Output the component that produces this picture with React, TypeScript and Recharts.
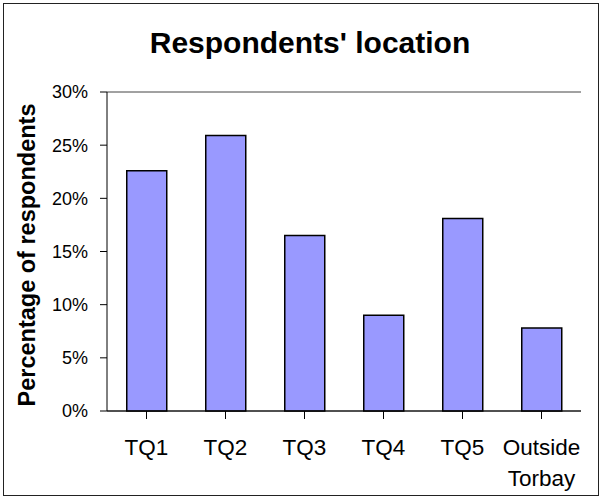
import { BarChart, Bar, XAxis, YAxis, CartesianGrid } from "recharts";

const categories = ["TQ1", "TQ2", "TQ3", "TQ4", "TQ5", "Outside Torbay"];
const shares = [22.6, 25.9, 16.5, 9.0, 18.1, 7.8];
const yTicks = [0, 5, 10, 15, 20, 25, 30];

const data = categories.map((name, i) => ({ name, value: shares[i] }));

const FONT = "'Liberation Sans', Arial, sans-serif";

function CategoryTick({ x, y, payload }: { x?: number; y?: number; payload?: { value: string } }) {
  const lines = String(payload?.value ?? "").split(" ");
  return (
    <g>
      {lines.map((line, i) => (
        <text
          key={i}
          x={x}
          y={(y ?? 0) + 34 + i * 31}
          textAnchor="middle"
          fontSize={22.5}
          fontFamily={FONT}
          fill="#000"
        >
          {line}
        </text>
      ))}
    </g>
  );
}

export default function App() {
  return (
    <div style={{ position: "absolute", left: 0, top: 0, width: 602, height: 499, background: "#fff" }}>
      <div
        style={{
          position: "absolute",
          left: 3,
          top: 3,
          width: 596,
          height: 493,
          border: "1px solid #222",
          boxSizing: "border-box",
        }}
      />
      <div
        style={{
          position: "absolute",
          left: 0,
          width: 620,
          top: 25,
          textAlign: "center",
          fontFamily: FONT,
          fontWeight: "bold",
          fontSize: 30,
          lineHeight: "36px",
          color: "#000",
        }}
      >
        Respondents' location
      </div>
      <div style={{ position: "absolute", left: 0, top: 0 }}>
        <BarChart width={602} height={499} data={data} margin={{ top: 92, right: 21, bottom: 0, left: 0 }} barCategoryGap="25%">
          <CartesianGrid horizontal vertical={false} stroke="#444" />
          <XAxis
            dataKey="name"
            height={88}
            interval={0}
            tickSize={8}
            tick={<CategoryTick />}
            axisLine={{ stroke: "#000" }}
            tickLine={{ stroke: "#000" }}
          />
          <YAxis
            yAxisId="left"
            width={107}
            domain={[0, 30]}
            ticks={yTicks}
            tickFormatter={(v: number) => `${v}%`}
            tickSize={7}
            tickMargin={12}
            tick={{ fontSize: 18, fontFamily: FONT, fill: "#000" }}
            axisLine={{ stroke: "#000" }}
            tickLine={{ stroke: "#000" }}
            label={{
              content: () => (
                <text
                  x={27}
                  y={255}
                  transform="rotate(-90 27 255)"
                  textAnchor="middle"
                  dominantBaseline="central"
                  fontSize={23.5}
                  fontWeight="bold"
                  fontFamily={FONT}
                  fill="#000"
                >
                  Percentage of respondents
                </text>
              ),
            }}
          />
          <YAxis
            yAxisId="right"
            orientation="right"
            width={0}
            domain={[0, 30]}
            tick={false}
            tickLine={false}
            axisLine={{ stroke: "#808080" }}
          />
          <Bar
            yAxisId="left"
            dataKey="value"
            fill="#9999FF"
            stroke="#000"
            strokeWidth={1.5}
            isAnimationActive={false}
          />
        </BarChart>
      </div>
    </div>
  );
}
